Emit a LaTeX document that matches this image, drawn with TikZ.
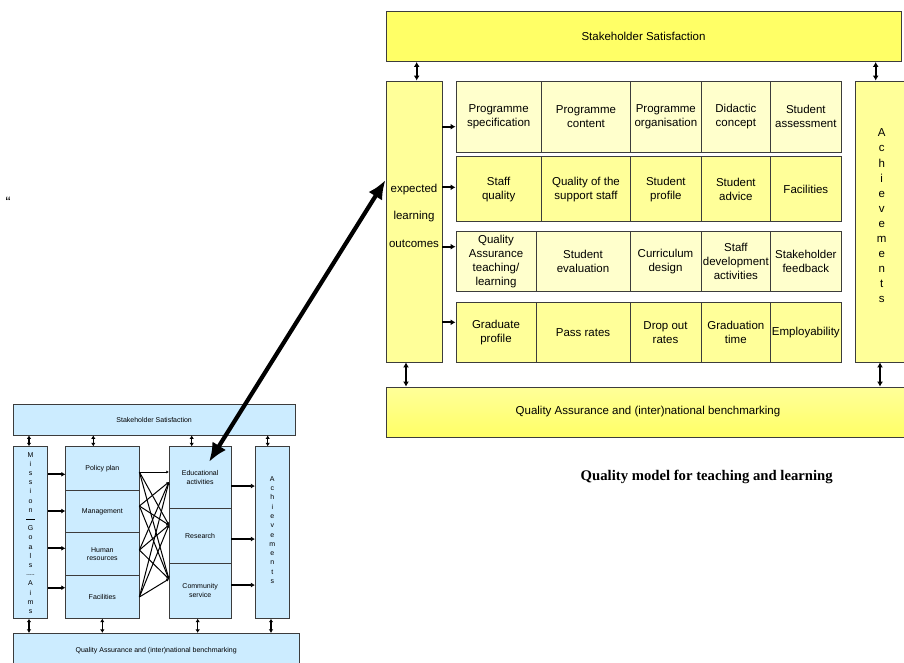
\documentclass[tikz,border=0pt]{standalone}
\usepackage{fontspec}
\setmainfont{Liberation Sans}
\newfontfamily\capfont{Liberation Serif}
\usetikzlibrary{arrows.meta}
\definecolor{lblue}{RGB}{204,236,255}
\definecolor{ylight}{RGB}{255,255,204}
\definecolor{ymid}{RGB}{255,255,153}
\definecolor{ybright}{RGB}{255,255,102}
\definecolor{edge}{RGB}{60,60,60}
\tikzset{
  bbox/.style={draw=edge, line width=0.9pt, inner sep=0pt, align=center,
    font=\fontsize{11.5}{14}\selectfont},
  cell/.style={bbox, fill=ylight},
  cellm/.style={bbox, fill=ymid},
  sbox/.style={draw=edge, line width=0.8pt, fill=lblue, inner sep=0pt, align=center,
    font=\fontsize{7}{8.7}\selectfont},
  dbl/.style={{Latex[length=5pt,width=6pt]}-{Latex[length=5pt,width=6pt]}, line width=1.7pt},
  rarr/.style={-{Latex[length=5pt,width=6pt]}, line width=2pt},
  sdbl/.style={{Latex[length=3.5pt,width=4.5pt]}-{Latex[length=3.5pt,width=4.5pt]}, line width=1.3pt},
  srarr/.style={-{Latex[length=4pt,width=5pt]}, line width=2pt},
  sthin/.style={-{Latex[length=2.5pt,width=3pt]}, line width=1pt},
  bigarr/.style={{Latex[length=19pt,width=16pt]}-{Latex[length=19pt,width=16pt]}, line width=4.2pt},
}
\begin{document}
\begin{tikzpicture}[x=1pt,y=-1pt]
\useasboundingbox (0,0) rectangle (904,662);
\clip (0,0) rectangle (904,662);

% ===== large diagram =====
\node[bbox, fill=ybright, minimum width=515pt, minimum height=50.5pt] (ss) at (643.5,36.25) {Stakeholder Satisfaction};
\node[bbox, top color=ymid, bottom color=ybright, minimum width=524pt, minimum height=50pt] (qa) at (648,412) {Quality Assurance and (inter)national benchmarking};
\node[bbox, fill=ymid, minimum width=56pt, minimum height=281pt] (elo) at (414,221.5) {};
\node[align=center, font=\fontsize{11.5}{27.5}\selectfont] (elot) at (414,215.5) {expected\\learning\\outcomes};
\node[bbox, fill=ymid, minimum width=55pt, minimum height=281pt] (ach) at (882.5,221.5) {};
\node[align=center, font=\fontsize{11.5}{15.1}\selectfont] (acht) at (881.7,216) {A\\c\\h\\i\\e\\v\\e\\m\\e\\n\\t\\s};

% row 1
\node[cell, minimum width=85.3pt, minimum height=71pt] (r1a) at (498.65,116.5) {Programme\\specification};
\node[cell, minimum width=89.4pt, minimum height=71pt] (r1b) at (586,116.5) {Programme\\content};
\node[cell, minimum width=70.3pt, minimum height=71pt] (r1c) at (665.85,116.5) {Programme\\organisation};
\node[cell, minimum width=69.7pt, minimum height=71pt] (r1d) at (735.85,116.5) {Didactic\\concept};
\node[cell, minimum width=70.3pt, minimum height=71pt] (r1e) at (805.85,116.5) {Student\\assessment};
% row 2
\node[cellm, minimum width=85.3pt, minimum height=65pt] (r2a) at (498.65,189.2) {Staff\\quality};
\node[cellm, minimum width=89.4pt, minimum height=65pt] (r2b) at (586,189.2) {Quality of the\\support staff};
\node[cellm, minimum width=70.3pt, minimum height=65pt] (r2c) at (665.85,189.2) {Student\\profile};
\node[cellm, minimum width=69.7pt, minimum height=65pt] (r2d) at (735.85,189.2) {Student\\advice};
\node[cellm, minimum width=70.3pt, minimum height=65pt] (r2e) at (805.85,189.2) {Facilities};
% row 3
\node[cell, minimum width=80pt, minimum height=60pt] (r3a) at (496,261.7) {Quality\\Assurance\\teaching/\\learning};
\node[cell, minimum width=94pt, minimum height=60pt] (r3b) at (583,261.7) {Student\\evaluation};
\node[cell, minimum width=71pt, minimum height=60pt] (r3c) at (665.5,261.7) {Curriculum\\design};
\node[cell, minimum width=69.7pt, minimum height=60pt] (r3d) at (735.85,261.7) {Staff\\development\\activities};
\node[cell, minimum width=70.3pt, minimum height=60pt] (r3e) at (805.85,261.7) {Stakeholder\\feedback};
% row 4
\node[cellm, minimum width=80pt, minimum height=60pt] (r4a) at (496,332.3) {Graduate\\profile};
\node[cellm, minimum width=94pt, minimum height=60pt] (r4b) at (583,332.3) {Pass rates};
\node[cellm, minimum width=71pt, minimum height=60pt] (r4c) at (665.5,332.3) {Drop out\\rates};
\node[cellm, minimum width=69.7pt, minimum height=60pt] (r4d) at (735.85,332.3) {Graduation\\time};
\node[cellm, minimum width=70.3pt, minimum height=60pt] (r4e) at (805.85,332.3) {Employability};

% arrows large
\draw[dbl] (ss.south -| 416.7,0) -- (elo.north -| 416.7,0);
\draw[dbl] (ss.south -| 875.7,0) -- (ach.north -| 875.7,0);
\draw[dbl] (elo.south -| 406,0) -- (qa.north -| 406,0);
\draw[dbl] (ach.south -| 880,0) -- (qa.north -| 880,0);
\draw[rarr] (elo.east |- 0,126.7) -- (r1a.west |- 0,126.7);
\draw[rarr] (elo.east |- 0,187.3) -- (r2a.west |- 0,187.3);
\draw[rarr] (elo.east |- 0,246.7) -- (r3a.west |- 0,246.7);
\draw[rarr] (elo.east |- 0,322.3) -- (r4a.west |- 0,322.3);

\node[font=\capfont\fontsize{14.7}{17}\selectfont\bfseries] (cap) at (706.7,476.5) {Quality model for teaching and learning};
\node[font=\fontsize{15}{17}\selectfont] (q) at (8,202) {“};

% ===== small diagram =====
\node[sbox, minimum width=281.7pt, minimum height=31pt] (sss) at (154.15,419.5) {Stakeholder Satisfaction};
\node[sbox, minimum width=285.7pt, minimum height=35.7pt] (sqa) at (156.15,651.15) {Quality Assurance and (inter)national benchmarking};
\node[sbox, minimum width=34.4pt, minimum height=171.6pt] (mis) at (30.5,532.5) {};
\node[align=center, font=\fontsize{7}{9.2}\selectfont] (mist) at (30.5,533) {M\\i\\s\\s\\i\\o\\n\\\rule[2pt]{9pt}{0.5pt}\\G\\o\\a\\l\\s\\{\fontsize{5}{5}\selectfont -{}-{}-{}-{}-}\\A\\i\\m\\s};
\node[sbox, minimum width=73.3pt, minimum height=43.3pt] (p1) at (102.35,468.35) {Policy plan};
\node[sbox, minimum width=73.3pt, minimum height=42.7pt] (p2) at (102.35,511.35) {Management};
\node[sbox, minimum width=73.3pt, minimum height=42.6pt] (p3) at (102.35,554) {Human\\resources};
\node[sbox, minimum width=73.3pt, minimum height=43pt] (p4) at (102.35,596.8) {Facilities};
\node[sbox, minimum width=61.7pt, minimum height=61.6pt] (e1) at (200.15,477.5) {Educational\\activities};
\node[sbox, minimum width=61.7pt, minimum height=55pt] (e2) at (200.15,535.8) {Research};
\node[sbox, minimum width=61.7pt, minimum height=55pt] (e3) at (200.15,590.8) {Community\\service};
\node[sbox, minimum width=34pt, minimum height=171.6pt] (sach) at (272.3,532.5) {};
\node[align=center, font=\fontsize{7}{9.3}\selectfont] (sacht) at (272.3,530) {A\\c\\h\\i\\e\\v\\e\\m\\e\\n\\t\\s};

\draw[sdbl] (sss.south -| 29,0) -- (mis.north -| 29,0);
\draw[sdbl] (sss.south -| 93.3,0) -- (p1.north -| 93.3,0);
\draw[sdbl] (sss.south -| 191.7,0) -- (e1.north -| 191.7,0);
\draw[sdbl] (sss.south -| 267.7,0) -- (sach.north -| 267.7,0);
\draw[sdbl] (mis.south -| 29,0) -- (sqa.north -| 29,0);
\draw[sdbl] (p4.south -| 102.3,0) -- (sqa.north -| 102.3,0);
\draw[sdbl] (e3.south -| 197.7,0) -- (sqa.north -| 197.7,0);
\draw[sdbl] (sach.south -| 271,0) -- (sqa.north -| 271,0);

\draw[srarr] (mis.east |- 0,474.3) -- (p1.west |- 0,474.3);
\draw[srarr] (mis.east |- 0,511) -- (p2.west |- 0,511);
\draw[srarr] (mis.east |- 0,548.3) -- (p3.west |- 0,548.3);
\draw[srarr] (mis.east |- 0,587.7) -- (p4.west |- 0,587.7);

\draw[srarr] (e1.east |- 0,486) -- (sach.west |- 0,486);
\draw[srarr] (e2.east |- 0,539) -- (sach.west |- 0,539);
\draw[srarr] (e3.east |- 0,585) -- (sach.west |- 0,585);

% crossing connectors
\draw[sthin] (p1.east |- 0,472) -- (e1.west |- 0,472);
\draw[sthin] (p1.east |- 0,472) -- (e2.west |- 0,525);
\draw[sthin] (p1.east |- 0,472) -- (e3.west |- 0,579);
\draw[sthin] (p2.east |- 0,506) -- (e1.west |- 0,482);
\draw[sthin] (p2.east |- 0,506) -- (e2.west |- 0,525);
\draw[sthin] (p2.east |- 0,506) -- (e3.west |- 0,579);
\draw[sthin] (p3.east |- 0,550) -- (e1.west |- 0,482);
\draw[sthin] (p3.east |- 0,550) -- (e2.west |- 0,525);
\draw[sthin] (p3.east |- 0,550) -- (e3.west |- 0,579);
\draw[sthin] (p4.east |- 0,597) -- (e1.west |- 0,482);
\draw[sthin] (p4.east |- 0,597) -- (e2.west |- 0,525);
\draw[sthin] (p4.east |- 0,597) -- (e3.west |- 0,579);

% big double arrow
\coordinate (bt) at (209,462);
\draw[bigarr] (elo.west |- 0,180) -- (bt);
\end{tikzpicture}
\end{document}
